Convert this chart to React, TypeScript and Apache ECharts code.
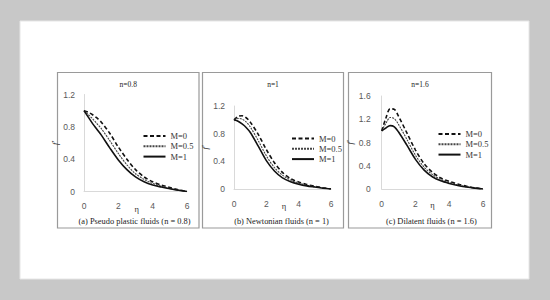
import React, { useEffect, useRef } from "react";
import * as echarts from "echarts";

const ETA = [0, 0.25, 0.5, 0.75, 1, 1.5, 2, 2.5, 3, 3.5, 4, 4.5, 5, 5.5, 6];
const SERIES_NAMES = ["M=0", "M=0.5", "M=1"];
const X_TICKS = { min: 0, max: 6, interval: 2 };

// (a) Pseudo plastic fluids, n = 0.8
const A_M0 = [1.0, 0.98, 0.95, 0.91, 0.86, 0.72, 0.55, 0.4, 0.27, 0.18, 0.12, 0.08, 0.05, 0.022, 0];
const A_M05 = [1.0, 0.95, 0.9, 0.84, 0.78, 0.63, 0.47, 0.33, 0.22, 0.15, 0.1, 0.065, 0.04, 0.018, 0];
const A_M1 = [1.0, 0.92, 0.84, 0.77, 0.7, 0.54, 0.39, 0.27, 0.18, 0.12, 0.08, 0.055, 0.035, 0.015, 0];
// (b) Newtonian fluids, n = 1
const B_M0 = [1.0, 1.05, 1.06, 1.03, 0.97, 0.79, 0.57, 0.38, 0.24, 0.15, 0.1, 0.065, 0.04, 0.018, 0];
const B_M05 = [1.0, 1.02, 1.01, 0.97, 0.9, 0.7, 0.48, 0.31, 0.2, 0.13, 0.085, 0.055, 0.033, 0.015, 0];
const B_M1 = [1.0, 0.98, 0.94, 0.89, 0.82, 0.62, 0.41, 0.26, 0.16, 0.105, 0.07, 0.045, 0.028, 0.012, 0];
// (c) Dilatent fluids, n = 1.6
const C_M0 = [1.0, 1.22, 1.38, 1.37, 1.25, 0.96, 0.67, 0.44, 0.29, 0.19, 0.13, 0.085, 0.05, 0.02, 0];
const C_M05 = [1.0, 1.13, 1.23, 1.21, 1.11, 0.85, 0.58, 0.38, 0.25, 0.165, 0.11, 0.07, 0.04, 0.017, 0];
const C_M1 = [1.0, 1.05, 1.09, 1.07, 0.98, 0.75, 0.51, 0.33, 0.21, 0.14, 0.095, 0.06, 0.035, 0.015, 0];

const TITLES = ["n=0.8", "n=1", "n=1.6"];
const CAPTIONS = [
  "(a) Pseudo plastic fluids (n = 0.8)",
  "(b) Newtonian fluids (n = 1)",
  "(c) Dilatent fluids (n = 1.6)",
];
const X_NAME = "η";
const Y_NAME = "f'";
const Y_MAX = [1.2, 1.2, 1.6];
const PANEL_DATA = [
  [A_M0, A_M05, A_M1],
  [B_M0, B_M05, B_M1],
  [C_M0, C_M05, C_M1],
];

const SERIF = "Liberation Serif";
const SANS = "Liberation Sans";

const GRIDS = [
  { left: 84, top: 94.5, width: 103, height: 97 },
  { left: 234, top: 106, width: 97, height: 83 },
  { left: 381.7, top: 96, width: 101.3, height: 93 },
];
const PANELS = [
  { x: 57.5, y: 72.5, w: 141.5, h: 155.5 },
  { x: 202.5, y: 72.5, w: 141, h: 155.5 },
  { x: 348.5, y: 72.5, w: 143, h: 155.5 },
];
const LEGEND_POS = [
  { left: 142.5, top: 131.5 },
  { left: 291, top: 134 },
  { left: 437.5, top: 129.5 },
];
const ETA_POS = [
  { x: 136.7, y: 208.5 },
  { x: 284, y: 206 },
  { x: 432.5, y: 204.5 },
];
const Y_LABEL_MARGIN = [9, 9, 11];
const Y_NAME_GAP = [21, 24, 24];
const LINE_STYLES = [
  { color: "#111", width: 1.6, type: [4, 2.5] },
  { color: "#444", width: 1.1, type: [2, 1] },
  { color: "#111", width: 1.6, type: "solid" },
];

export default function App() {
  const ref = useRef<HTMLDivElement>(null);
  useEffect(() => {
    if (!ref.current) return;
    const chart = echarts.init(ref.current, undefined, { renderer: "svg" });
    const grid = GRIDS.map((g) => ({ ...g, containLabel: false }));
    const xAxis = GRIDS.map((_, i) => ({
      type: "value",
      gridIndex: i,
      ...X_TICKS,
      axisLine: { show: true, lineStyle: { color: "#d9d9d9", width: 1 } },
      axisTick: { show: false },
      splitLine: { show: false },
      axisLabel: { color: "#595959", fontSize: 8.5, fontFamily: SANS, margin: 10 },
    }));
    const yAxis = GRIDS.map((_, i) => ({
      type: "value",
      gridIndex: i,
      min: 0,
      max: Y_MAX[i],
      interval: 0.4,
      name: Y_NAME,
      nameLocation: "middle",
      nameRotate: 90,
      nameGap: Y_NAME_GAP[i],
      nameTextStyle: { fontFamily: SERIF, fontStyle: "italic", fontSize: 8.5, color: "#333" },
      axisLine: { show: true, lineStyle: { color: "#d9d9d9", width: 1 } },
      axisTick: { show: false },
      splitLine: { show: false },
      axisLabel: {
        color: "#595959",
        fontSize: 8.5,
        fontFamily: SANS,
        margin: Y_LABEL_MARGIN[i],
        formatter: (v: number) => String(Math.round(v * 10) / 10),
      },
    }));
    const series: any[] = [];
    PANEL_DATA.forEach((arrs, p) => {
      arrs.forEach((arr, k) => {
        series.push({
          type: "line",
          name: SERIES_NAMES[k],
          xAxisIndex: p,
          yAxisIndex: p,
          data: ETA.map((x, i) => [x, arr[i]]),
          smooth: 0.3,
          symbol: "none",
          color: LINE_STYLES[k].color,
          itemStyle: { color: LINE_STYLES[k].color },
          lineStyle: LINE_STYLES[k],
          z: 3 + k,
        });
      });
    });
    const legend = LEGEND_POS.map((pos) => ({
      ...pos,
      orient: "vertical",
      padding: 0,
      itemWidth: 22,
      itemHeight: 8,
      itemGap: 1.3,
      selectedMode: false,
      itemStyle: { opacity: 0 },
      data: SERIES_NAMES,
      textStyle: { fontFamily: SERIF, fontSize: 8.5, color: "#333", lineHeight: 8 },
    }));
    const graphic: any[] = [
      {
        type: "rect",
        z: -10,
        shape: { x: 20, y: 21, width: 509, height: 258 },
        style: { fill: "#fff", stroke: "#e6e6e6", lineWidth: 1 },
      },
    ];
    PANELS.forEach((p, i) => {
      graphic.push({
        type: "rect",
        z: -9,
        shape: { x: p.x, y: p.y, width: p.w, height: p.h },
        style: { fill: "none", stroke: "#9a9a9a", lineWidth: 1.2 },
      });
      graphic.push({
        type: "text",
        x: p.x + p.w / 2,
        y: 84,
        style: {
          text: TITLES[i],
          fontFamily: SERIF,
          fontSize: 7.5,
          fill: "#222",
          align: "center",
          verticalAlign: "middle",
        },
      });
      graphic.push({
        type: "text",
        x: ETA_POS[i].x,
        y: ETA_POS[i].y,
        style: {
          text: X_NAME,
          fontFamily: SERIF,
          fontSize: 8.5,
          fill: "#333",
          align: "center",
          verticalAlign: "middle",
        },
      });
      const g = GRIDS[i];
      graphic.push({
        type: "text",
        x: g.left + g.width / 2 - 1,
        y: 221,
        style: {
          text: CAPTIONS[i],
          fontFamily: SERIF,
          fontSize: 8.4,
          fill: "#222",
          align: "center",
          verticalAlign: "middle",
        },
      });
    });
    chart.setOption({
      animation: false,
      backgroundColor: "#c8c8c8",
      grid,
      xAxis,
      yAxis,
      series,
      legend,
      graphic,
    } as any);
    return () => chart.dispose();
  }, []);
  return (
    <div
      ref={ref}
      style={{ position: "fixed", left: 0, top: 0, width: 550, height: 300 }}
    />
  );
}
